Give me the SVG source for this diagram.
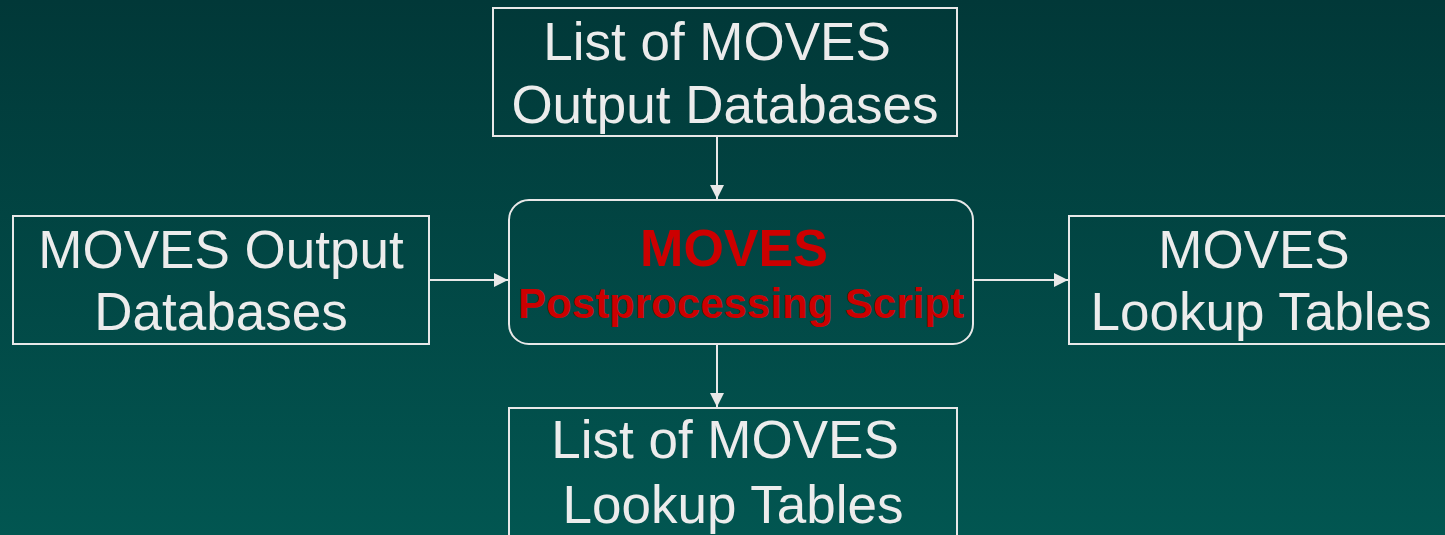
<svg xmlns="http://www.w3.org/2000/svg" width="1445" height="535" viewBox="0 0 1445 535">
<defs>
<linearGradient id="bg" x1="0" y1="0" x2="0" y2="1">
<stop offset="0" stop-color="#013838"/>
<stop offset="1" stop-color="#025651"/>
</linearGradient>
<marker id="ah" viewBox="0 0 10 10" refX="10" refY="5" markerWidth="7" markerHeight="7" markerUnits="strokeWidth" orient="auto">
<path d="M0,0 L10,5 L0,10 z" fill="#e8e8e8"/>
</marker>
<style>
.box{fill:none;stroke:#e8e8e8;stroke-width:2}
.t{font-family:"Liberation Sans",Arial,sans-serif;font-size:53px;fill:#ececec;text-anchor:middle}
.r{font-family:"Liberation Sans",Arial,sans-serif;font-weight:bold;fill:#cc0000;text-anchor:middle}
.c{stroke:#e8e8e8;stroke-width:2;fill:none}
</style>
</defs>
<rect x="0" y="0" width="1445" height="535" fill="url(#bg)"/>
<g id="connectors">
<line class="c" x1="717" y1="136" x2="717" y2="199" marker-end="url(#ah)"/>
<line class="c" x1="429" y1="280" x2="508" y2="280" marker-end="url(#ah)"/>
<line class="c" x1="973" y1="280" x2="1068" y2="280" marker-end="url(#ah)"/>
<line class="c" x1="717" y1="344" x2="717" y2="407" marker-end="url(#ah)"/>
</g>
<g id="top-list">
<rect class="box" x="493" y="8" width="464" height="128"/>
<text class="t" x="717" y="60">List of MOVES</text>
<text class="t" x="725" y="123">Output Databases</text>
</g>
<g id="output-db">
<rect class="box" x="13" y="216" width="416" height="128"/>
<text class="t" x="221" y="268">MOVES Output</text>
<text class="t" x="221" y="330">Databases</text>
</g>
<g id="script">
<rect class="box" x="509" y="200" width="464" height="144" rx="20" ry="20"/>
<text class="r" x="734" y="266" font-size="52">MOVES</text>
<text class="r" x="741" y="318" font-size="42">Postprocessing Script</text>
</g>
<g id="lookup">
<rect class="box" x="1069" y="216" width="390" height="128"/>
<text class="t" x="1254" y="268">MOVES</text>
<text class="t" x="1261" y="330">Lookup Tables</text>
</g>
<g id="bottom-list">
<rect class="box" x="509" y="408" width="448" height="140"/>
<text class="t" x="725" y="458">List of MOVES</text>
<text class="t" x="733" y="523">Lookup Tables</text>
</g>
</svg>
